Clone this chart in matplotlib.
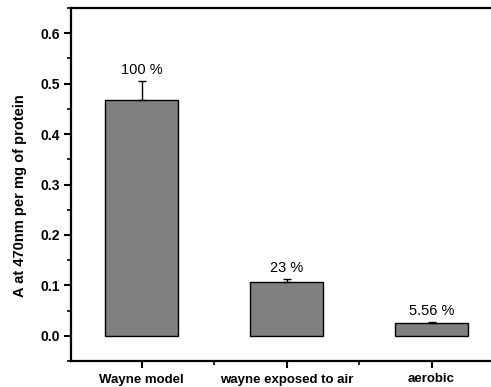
import matplotlib
matplotlib.use("Agg")
import matplotlib.pyplot as plt
from matplotlib.ticker import MultipleLocator, FixedLocator

categories = ["Wayne model", "wayne exposed to air", "aerobic"]
values = [0.468, 0.1065, 0.025]
errors = [0.038, 0.0065, 0.0025]
pct_labels = ["100 %", "23 %", "5.56 %"]

plt.rcParams['font.family'] = ['Liberation Sans', 'DejaVu Sans']

fig = plt.figure(figsize=(4.91, 3.87), dpi=100)
ax = fig.add_axes([71/491, 1-361/387, 1-71/491, (361-8)/387])

x = [1, 2, 3]
ax.bar(x, values, width=0.5, color='#808080', edgecolor='black', linewidth=1.0, zorder=2)
ax.errorbar(x, values, yerr=[[0]*3, errors], fmt='none', ecolor='black',
            elinewidth=1.0, capsize=3, capthick=1.0, zorder=3)
for xi, v, e, lab in zip(x, values, errors, pct_labels):
    ax.annotate(lab, (xi, v + e), xytext=(0, 2.5), textcoords='offset points',
                ha='center', va='bottom', fontsize=10.5)

ax.set_xlim(0.512, 3.41)
ax.set_ylim(-0.05, 0.65)
ax.set_xticks(x)
ax.set_xticklabels(categories, fontsize=9.5, fontweight='bold')
ax.xaxis.set_minor_locator(FixedLocator([1.5, 2.5]))
ax.set_yticks([0.0, 0.1, 0.2, 0.3, 0.4, 0.5, 0.6])
ax.yaxis.set_minor_locator(MultipleLocator(0.05))
ax.set_yticklabels(["0.0", "0.1", "0.2", "0.3", "0.4", "0.5", "0.6"], fontsize=10, fontweight='bold')
ax.set_ylabel("A at 470nm per mg of protein", fontsize=10.5, fontweight='bold')
ax.yaxis.set_label_coords((27-71)/420, 0.469)

for s in ['left', 'bottom', 'top']:
    ax.spines[s].set_linewidth(1.6)
ax.spines['right'].set_visible(False)
ax.tick_params(which='major', direction='out', length=5, width=1.5)
ax.tick_params(axis='y', which='major', pad=3)
ax.tick_params(axis='x', which='major', pad=4)
ax.tick_params(which='minor', direction='out', length=3, width=1.2)
ax.tick_params(axis='x', which='both', top=False)
ax.tick_params(axis='y', which='both', right=False)

fig.savefig("out.png", dpi=100)
